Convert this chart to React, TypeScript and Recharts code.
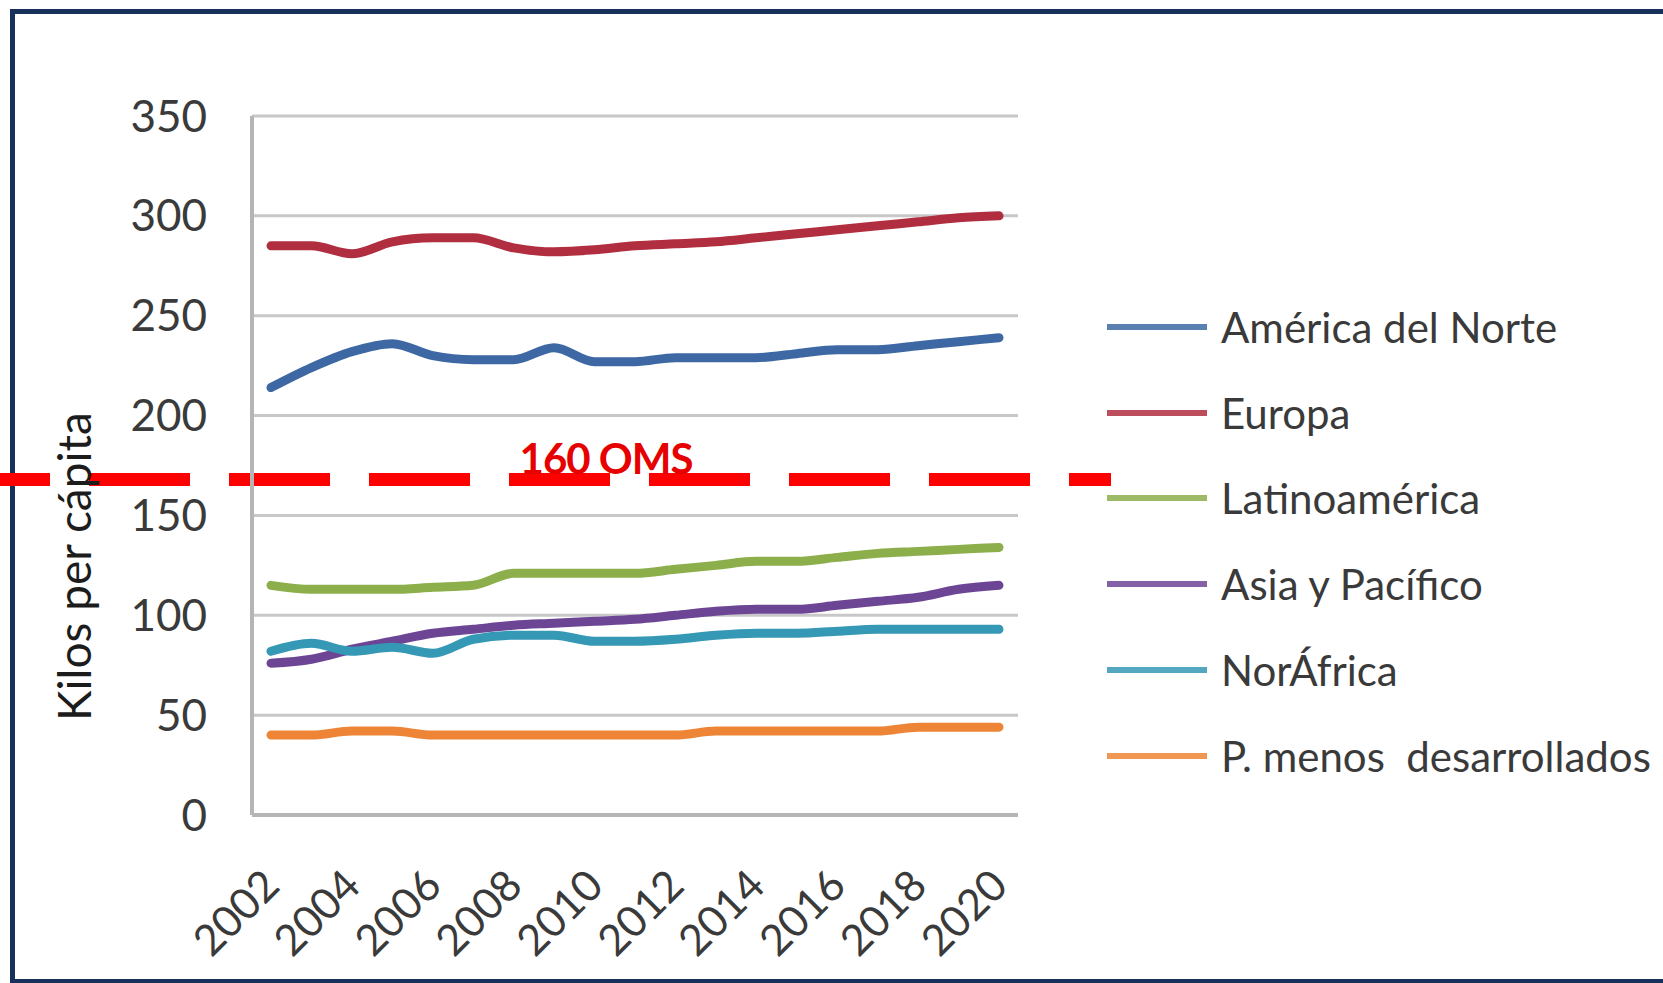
import { LineChart, Line, XAxis, YAxis, CartesianGrid, ReferenceLine } from "recharts";

const years = [
  "2002", "2003", "2004", "2005", "2006", "2007", "2008", "2009", "2010", "2011",
  "2012", "2013", "2014", "2015", "2016", "2017", "2018", "2019", "2020",
];

const northAmerica = [214, 224, 232, 236, 230, 228, 228, 234, 227, 227, 229, 229, 229, 231, 233, 233, 235, 237, 239];
const europe = [285, 285, 281, 287, 289, 289, 284, 282, 283, 285, 286, 287, 289, 291, 293, 295, 297, 299, 300];
const latinAmerica = [115, 113, 113, 113, 114, 115, 121, 121, 121, 121, 123, 125, 127, 127, 129, 131, 132, 133, 134];
const asiaPacific = [76, 78, 83, 87, 91, 93, 95, 96, 97, 98, 100, 102, 103, 103, 105, 107, 109, 113, 115];
const northAfrica = [82, 86, 82, 84, 81, 88, 90, 90, 87, 87, 88, 90, 91, 91, 92, 93, 93, 93, 93];
const leastDeveloped = [40, 40, 42, 42, 40, 40, 40, 40, 40, 40, 40, 42, 42, 42, 42, 42, 44, 44, 44];

const yTicks = [0, 50, 100, 150, 200, 250, 300, 350];

// the dashed OMS line sits a little above 160 in the source picture
const omsLabel = "160 OMS";
const omsLevel = 168;

const series = [
  { key: "na", name: "América del Norte", values: northAmerica, color: "#3d68a3" },
  { key: "eu", name: "Europa", values: europe, color: "#b02e3f" },
  { key: "la", name: "Latinoamérica", values: latinAmerica, color: "#8cae4b" },
  { key: "ap", name: "Asia y Pacífico", values: asiaPacific, color: "#6c4595" },
  { key: "nf", name: "NorÁfrica", values: northAfrica, color: "#3598b5" },
  { key: "pm", name: "P. menos  desarrollados", values: leastDeveloped, color: "#ee8536" },
];

const rows = years.map((year, i) => {
  const row: Record<string, string | number> = { year };
  series.forEach((s) => {
    row[s.key] = s.values[i];
  });
  return row;
});

const FONT = "Lato, 'Open Sans', sans-serif";

const YearTick = (props: any) => {
  const { x, y, payload } = props;
  return (
    <g transform={`translate(${x + 11},${y + 73})`}>
      <text
        x={0}
        y={0}
        textAnchor="end"
        transform="rotate(-45)"
        fontSize={43}
        fontFamily={FONT}
        fill="#3a3a3a"
      >
        {payload.value}
      </text>
    </g>
  );
};

const YTitle = (props: any) => {
  const { viewBox } = props;
  const cx = viewBox.x + 53;
  const cy = viewBox.y + viewBox.height / 2 + 101;
  return (
    <text
      x={cx}
      y={cy}
      transform={`rotate(-90, ${cx}, ${cy})`}
      textAnchor="middle"
      dominantBaseline="central"
      fontSize={46}
      fontFamily={FONT}
      fill="#1c1c1c"
    >
      Kilos per cápita
    </text>
  );
};

const OmsLine = (props: any) => {
  const { y1 } = props;
  return (
    <g>
      <line
        x1={-51}
        x2={1111}
        y1={y1}
        y2={y1}
        stroke="#ff0000"
        strokeWidth={13}
        strokeDasharray="101 39"
      />
      <text
        x={606}
        y={y1 - 5}
        textAnchor="middle"
        fontSize={42}
        fontWeight={700}
        fontFamily={FONT}
        fill="#e60000"
        letterSpacing={-1}
      >
        {omsLabel}
      </text>
    </g>
  );
};

export default function App() {
  return (
    <div
      style={{
        position: "absolute",
        left: 0,
        top: 0,
        width: 1663,
        height: 983,
        background: "#fff",
        overflow: "hidden",
      }}
    >
      <div
        style={{
          position: "absolute",
          left: 10,
          top: 9,
          width: 1653,
          height: 974,
          boxSizing: "border-box",
          borderTop: "5px solid #17315c",
          borderLeft: "5px solid #17315c",
          borderBottom: "4px solid #17315c",
        }}
      />

      <div style={{ position: "absolute", left: 0, top: 0 }}>
        <LineChart
          width={1663}
          height={983}
          data={rows}
          margin={{ top: 116, right: 645, bottom: 18, left: 20 }}
        >
          <CartesianGrid vertical={false} stroke="#c8c8c8" strokeWidth={3} />
          <XAxis
            dataKey="year"
            height={150}
            padding={{ left: 19, right: 19 }}
            interval={1}
            tickLine={false}
            tickSize={0}
            tickMargin={0}
            axisLine={{ stroke: "#b5b5b5", strokeWidth: 4 }}
            tick={<YearTick />}
          />
          <YAxis
            width={232}
            type="number"
            domain={[0, 350]}
            ticks={yTicks}
            interval={0}
            tickLine={false}
            tickMargin={39}
            axisLine={{ stroke: "#b5b5b5", strokeWidth: 4 }}
            tick={{ fontSize: 44, fontFamily: FONT, fill: "#3a3a3a" }}
            label={{ content: <YTitle /> }}
          />
          {series.map((s) => (
            <Line
              key={s.key}
              dataKey={s.key}
              name={s.name}
              type="monotone"
              stroke={s.color}
              strokeWidth={9}
              strokeLinecap="round"
              strokeLinejoin="round"
              dot={false}
              activeDot={false}
              isAnimationActive={false}
            />
          ))}
          <ReferenceLine y={omsLevel} shape={<OmsLine />} />
        </LineChart>
      </div>

      <div style={{ position: "absolute", left: 1107, top: 284 }}>
        {series.map((s) => (
          <div
            key={s.key}
            style={{ height: 85.8, display: "flex", alignItems: "center" }}
          >
            <div
              style={{
                width: 100,
                height: 6,
                background: s.color,
                opacity: 0.85,
                marginRight: 14,
              }}
            />
            <span
              style={{
                fontFamily: FONT,
                fontSize: 42,
                color: "#3a3a3a",
                whiteSpace: "pre",
              }}
            >
              {s.name}
            </span>
          </div>
        ))}
      </div>
    </div>
  );
}
